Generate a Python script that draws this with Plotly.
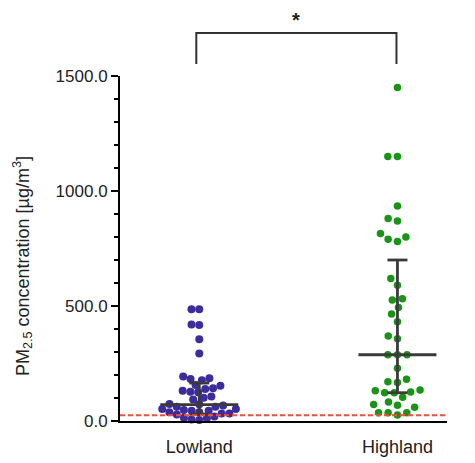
import numpy as np
import plotly.graph_objects as go

# ---------------- data ----------------
categories = ["Lowland", "Highland"]
lowland = [486, 486, 420, 417, 355, 293, 194, 186, 183, 177, 157, 153, 142, 139,
           132, 127, 125, 106, 101, 94, 74, 73, 67, 62, 62, 52, 52, 48, 45, 45,
           38, 38, 33, 33, 28, 20, 14, 12, 6, 4]
highland = [1450, 1150, 1150, 935, 880, 870, 815, 800, 790, 780, 620, 590, 532,
            526, 494, 465, 432, 370, 358, 288, 288, 288, 229, 181, 171, 167, 135,
            132, 126, 123, 123, 103, 83, 72, 68, 60, 36, 36, 36, 26]
medians = [71, 288]
lower_bar = [30, 123]
upper_bar = [165, 700]
guideline = 25
yticks = [0, 500, 1000, 1500]
yticktext = ["0.0", "500.0", "1000.0", "1500.0"]
sig_label = "<b>*</b>"
ytitle = "PM<sub>2.5</sub> concentration [µg/m<sup>3</sup>]"

# ---------------- layout constants ----------------
W, H = 475, 463
ml, mr, mt, mb = 120, 28, 76, 42
xr = [-0.4, 1.25]
yr = [0, 1500]
pw, ph = W - ml - mr, H - mt - mb
px_per_x = pw / (xr[1] - xr[0])
px_per_y = ph / (yr[1] - yr[0])
colors = ["#3c2c9c", "#1a9416"]
bar_color = "#3a3a3a"


def swarm(vals, d):
    vals = np.asarray(vals, dtype=float)
    order = np.argsort(vals, kind="stable")
    placed = []
    offs = np.zeros(len(vals))
    for i in order:
        y = vals[i] * px_per_y
        cands = [0.0]
        for xj, yj in placed:
            dy = abs(y - yj)
            if dy < d:
                dx = np.sqrt(d * d - dy * dy)
                cands += [xj + dx, xj - dx]
        cands.sort(key=lambda c: (round(abs(c), 6), c))
        for c in cands:
            if all((c - xj) ** 2 + (y - yj) ** 2 >= d * d - 1e-6 for xj, yj in placed):
                offs[i] = c
                placed.append((c, y))
                break
    return offs / px_per_x


fig = go.Figure()

groups = [lowland, highland]
sizes = [8, 7.5]
spacing = [7.8, 9.6]
for k, vals in enumerate(groups):
    offs = swarm(vals, spacing[k])
    fig.add_trace(go.Scatter(
        x=k + offs, y=vals, mode="markers",
        marker=dict(size=sizes[k], color=colors[k], line=dict(width=0)),
        cliponaxis=False, showlegend=False, name=categories[k]))

# median and error bars
med_half = 39 / px_per_x
cap_half = 10 / px_per_x
for k in range(2):
    fig.add_trace(go.Scatter(
        x=[k - med_half, k + med_half], y=[medians[k], medians[k]], mode="lines",
        line=dict(color=bar_color, width=2.8), showlegend=False, cliponaxis=False))
    fig.add_trace(go.Scatter(
        x=[k, k], y=[lower_bar[k], upper_bar[k]], mode="lines",
        line=dict(color=bar_color, width=2.8), showlegend=False, cliponaxis=False))
    for v in (lower_bar[k], upper_bar[k]):
        fig.add_trace(go.Scatter(
            x=[k - cap_half, k + cap_half], y=[v, v], mode="lines",
            line=dict(color=bar_color, width=2.8), showlegend=False, cliponaxis=False))

# guideline
fig.add_shape(type="line", xref="paper", yref="y", x0=0, x1=1, y0=guideline, y1=guideline,
              line=dict(color="#f0503a", width=1.8, dash="5px,3px"))


def xpaper(x):
    return (x - xr[0]) / (xr[1] - xr[0])


yb0 = 1 + 12 / ph
yb1 = 1 + 43 / ph
fig.add_shape(type="path", xref="paper", yref="paper",
              path=f"M {xpaper(-0.015)},{yb0} L {xpaper(-0.015)},{yb1} L {xpaper(0.995)},{yb1} L {xpaper(0.995)},{yb0}",
              line=dict(color="#333333", width=2))
fig.add_annotation(xref="paper", yref="paper", x=xpaper(0.49), y=(H - mb - 20) / ph,
                   text=sig_label, showarrow=False, yanchor="middle",
                   font=dict(size=20, color="#222222"))
# y-axis title
fig.add_annotation(xref="paper", yref="paper", x=(22 - ml) / pw, y=(H - mb - 266) / ph,
                   text=ytitle, textangle=-90, showarrow=False,
                   xanchor="center", yanchor="middle",
                   font=dict(size=18, color="#222222"))

font_family = "Arial, Liberation Sans, sans-serif"
fig.update_layout(
    width=W, height=H,
    margin=dict(l=ml, r=mr, t=mt, b=mb, autoexpand=False),
    paper_bgcolor="white", plot_bgcolor="white",
    font=dict(family=font_family, color="#222222"),
    xaxis=dict(range=xr, tickvals=[0, 1], ticktext=categories, showgrid=False,
               zeroline=False, showline=True, linecolor="black", linewidth=2,
               ticks="", ticklabelstandoff=8, tickfont=dict(size=18, color="#222222")),
    yaxis=dict(range=yr, tickvals=yticks, ticktext=yticktext, showgrid=False,
               zeroline=False, showline=True, linecolor="black", linewidth=2,
               ticks="outside", ticklen=7, tickwidth=2, tickcolor="black",
               tickfont=dict(size=17, color="#222222"),
               minor=dict(dtick=100, ticks="outside", ticklen=4, tickwidth=2, tickcolor="black")),
)

fig.write_html("out.html", post_script="document.body.style.margin='0';",
               config={"displayModeBar": False})
